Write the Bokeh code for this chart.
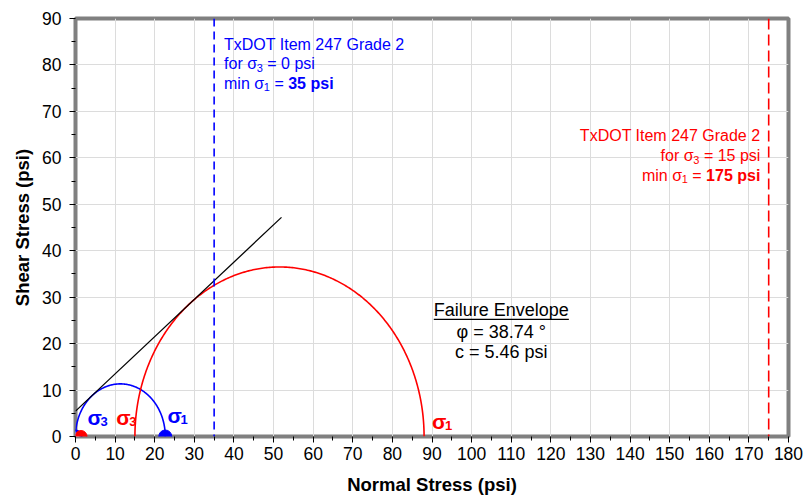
import numpy as np
from bokeh.plotting import figure
from bokeh.models import Range1d, Label, FixedTicker, Span
from bokeh.embed import file_html
from bokeh.resources import INLINE

# ---------------- data ----------------
sigma3_tests = [0.0, 15.0]          # confining stress of each Mohr circle (psi)
sigma1_tests = [22.66, 88.0]        # major principal stress of each circle (psi)
circle_colors = ["#0000ff", "#ff0000"]
phi_deg = 38.74                     # friction angle
cohesion = 5.46                     # psi
envelope_x = [0.0, 52.0]            # extent of drawn envelope
spec_sigma3 = [0, 15]               # TxDOT spec confining stress
spec_sigma1 = [35, 175]             # TxDOT spec min sigma1
spec_name = "TxDOT Item 247 Grade 2"
open_marker_x = [0.0]
red_marker_x = [1.4]
x_ticks = list(range(0, 181, 10))
y_ticks = list(range(0, 91, 10))
x_title = "Normal Stress (psi)"
y_title = "Shear Stress (psi)"

FONT = "Liberation Sans"
W, H = 805, 498
ML, MR, MT, MB = 75, 17, 18, 62
YFIX = 7  # baseline correction (px)

p = figure(width=W, height=H, x_range=Range1d(0, 180), y_range=Range1d(0, 90),
           output_backend="svg", toolbar_location=None,
           min_border_left=ML, min_border_right=MR, min_border_top=MT, min_border_bottom=MB,
           background_fill_color="white", border_fill_color="white")

px_per_x = (W - ML - MR) / 180.0

# axes
for ax in (p.xaxis[0], p.yaxis[0]):
    ax.axis_line_color = None
    ax.major_tick_line_color = "black"
    ax.minor_tick_line_color = "black"
    ax.major_tick_out = 6
    ax.major_tick_in = 0
    ax.minor_tick_out = 4
    ax.minor_tick_in = 0
    ax.major_label_text_font = FONT
    ax.major_label_text_font_size = "17.5px"
    ax.major_label_text_color = "black"
    ax.axis_label_text_font = FONT
    ax.axis_label_text_font_size = "18.5px"
    ax.axis_label_text_font_style = "bold"
    ax.axis_label_text_color = "black"

p.xaxis.ticker = FixedTicker(ticks=x_ticks, minor_ticks=[t + 5 for t in x_ticks[:-1]])
p.yaxis.ticker = FixedTicker(ticks=y_ticks, minor_ticks=[t + 5 for t in y_ticks[:-1]])
p.xaxis.axis_label = x_title
p.yaxis.axis_label = y_title
p.xaxis.major_label_standoff = 4
p.xaxis.axis_label_standoff = 11
p.yaxis.major_label_standoff = 8
p.yaxis.axis_label_standoff = 6

p.xgrid.ticker = FixedTicker(ticks=x_ticks)
p.ygrid.ticker = FixedTicker(ticks=y_ticks)
p.grid.grid_line_color = "#dcdcdc"
p.grid.grid_line_width = 1

p.outline_line_color = "#808080"
p.outline_line_width = 4

# spec lines
for s1, col, dash in zip(spec_sigma1, circle_colors, ["8 5", "11 5"]):
    p.add_layout(Span(location=s1, dimension="height", line_color=col,
                      line_width=1.6, line_dash=dash))

# Mohr circles
t = np.linspace(0, np.pi, 300)
for s3, s1, col in zip(sigma3_tests, sigma1_tests, circle_colors):
    c = (s1 + s3) / 2.0
    r = (s1 - s3) / 2.0
    p.line(c + r * np.cos(t), r * np.sin(t), line_color=col, line_width=1.6)

# failure envelope
ex = np.array(envelope_x)
p.line(ex, cohesion + np.tan(np.radians(phi_deg)) * ex, line_color="black", line_width=1.3)

# markers
p.scatter(open_marker_x, [0] * len(open_marker_x), size=11, fill_color="#e8f4ff",
          line_color="#0000ff", line_width=3)
p.scatter(red_marker_x, [0] * len(red_marker_x), size=12, fill_color="#ff0000",
          line_color="#ff0000")
p.scatter([sigma1_tests[0]], [0], size=13, fill_color="#0000ff", line_color="#0000ff")

# ---------------- rich text helper ----------------
REG = {' ': 278, '.': 278, '=': 584, '°': 400, 'σ': 600, 'φ': 650,
       'a': 556, 'c': 500, 'd': 556, 'e': 556, 'f': 278, 'i': 222, 'l': 222,
       'm': 833, 'n': 556, 'o': 556, 'p': 556, 'r': 333, 's': 500, 't': 278,
       'u': 556, 'v': 500, 'x': 500, 'D': 722, 'E': 667, 'F': 611, 'G': 778,
       'I': 278, 'O': 778, 'T': 611}
BOLD = {' ': 278, '.': 278, 'σ': 620, 'p': 611, 's': 556, 'i': 278}


def tw(s, size, bold=False):
    tbl = BOLD if bold else REG
    return sum(tbl.get(ch, 556) for ch in s) * size / 1000.0


def rich(x, y, pieces, color, align="left"):
    total = sum(tw(tx, sz, b) for tx, sz, b, dy in pieces)
    off = {"left": 0.0, "right": -total, "center": -total / 2.0}[align]
    for tx, sz, b, dy in pieces:
        stripped = tx.lstrip(" ")
        lead = tw(tx[:len(tx) - len(stripped)], sz, b)
        if stripped.strip():
            p.add_layout(Label(x=x, y=y, x_offset=off + lead, y_offset=dy + YFIX,
                               text=stripped.rstrip(" "), text_font=FONT,
                               text_font_size=f"{sz}px",
                               text_font_style="bold" if b else "normal",
                               text_color=color, text_baseline="alphabetic",
                               text_align="left"))
        off += tw(tx, sz, b)


# spec annotations
blue, red = circle_colors
rich(37.5, 83.0, [(spec_name, 16, False, 0)], blue)
rich(37.5, 78.8, [("for σ", 16, False, 0), ("3", 11, False, -4),
                  (f" = {spec_sigma3[0]} psi", 16, False, 0)], blue)
rich(37.5, 74.6, [("min σ", 16, False, 0), ("1", 11, False, -4), (" = ", 16, False, 0),
                  (f"{spec_sigma1[0]} psi", 16, True, 0)], blue)

rich(172.9, 63.3, [(spec_name, 16, False, 0)], red, "right")
rich(172.9, 58.9, [("for σ", 16, False, 0), ("3", 11, False, -4),
                   (f" = {spec_sigma3[1]} psi", 16, False, 0)], red, "right")
rich(172.9, 54.7, [("min σ", 16, False, 0), ("1", 11, False, -4), (" = ", 16, False, 0),
                   (f"{spec_sigma1[1]} psi", 16, True, 0)], red, "right")

# failure envelope text
fe_x = 107.5
rich(fe_x, 25.8, [("Failure Envelope", 18, False, 0)], "black", "center")
half = tw("Failure Envelope", 18) / 2.0 / px_per_x
p.segment(x0=[fe_x - half], y0=[25.2], x1=[fe_x + half], y1=[25.2],
          line_color="black", line_width=1.3)
rich(fe_x, 20.9, [(f"φ = {phi_deg:.2f} °", 18, False, 0)], "black", "center")
rich(fe_x, 16.7, [(f"c = {cohesion:.2f} psi", 18, False, 0)], "black", "center")

# sigma labels on the chart
rich(3.0, 2.6, [("σ", 21, True, 0), ("3", 13, True, -4)], blue)
rich(10.3, 2.6, [("σ", 21, True, 0), ("3", 13, True, -4)], red)
rich(23.2, 3.1, [("σ", 21, True, 0), ("1", 13, True, -4)], blue)
rich(90.0, 1.7, [("σ", 21, True, 0), ("1", 13, True, -4)], red)

open("out.html", "w").write(file_html(p, INLINE))
